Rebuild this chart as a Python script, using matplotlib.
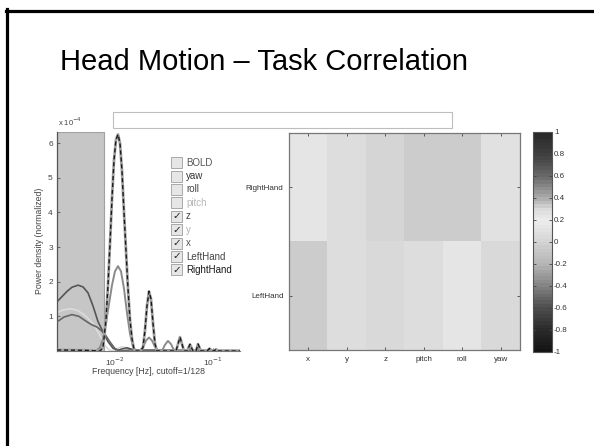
import matplotlib
matplotlib.use("Agg")
import matplotlib.pyplot as plt
import numpy as np
from matplotlib.colors import LinearSegmentedColormap
from matplotlib.patches import Rectangle
from matplotlib.lines import Line2D

# ---------------- data ----------------
title_text = "Head Motion \u2013 Task Correlation"
cutoff_hz = 1 / 128
freq_limits = (0.00256, 0.1886)
y_max = 6.32  # in units of 1e-4

# low-frequency motion curves (values in 1e-4)
z_freq = [0.002560, 0.002879, 0.003237, 0.003640, 0.004193, 0.004715, 0.005303,
          0.005963, 0.006707, 0.007543, 0.008484, 0.009541, 0.010730, 0.011786,
          0.013257, 0.014911, 0.017993, 0.025595, 0.046064, 0.097680, 0.1886]
z_vals = [1.42, 1.57, 1.72, 1.84, 1.90, 1.85, 1.68,
          1.30, 0.85, 0.55, 0.27, 0.08, 0.02, 0.06,
          0.09, 0.05, 0.02, 0.02, 0.01, 0.01, 0.01]

y_freq = [0.002560, 0.002947, 0.003474, 0.004095, 0.004941, 0.005963, 0.006707,
          0.007369, 0.007907, 0.008684, 0.009541, 0.010238, 0.011514, 0.013257,
          0.015265, 0.017993, 0.025595, 0.046064, 0.097680, 0.1886]
y_vals = [1.12, 1.18, 1.22, 1.18, 1.03, 0.79, 0.55,
          0.33, 0.16, 0.03, 0.01, 0.05, 0.12, 0.10,
          0.02, 0.01, 0.04, 0.02, 0.01, 0.01]

x_freq = [0.002560, 0.003017, 0.003640, 0.004292, 0.004941, 0.005690, 0.006549,
          0.007197, 0.007907, 0.008893, 0.01, 0.011246, 0.014226, 0.020237,
          0.034733, 0.1886]
x_vals = [0.84, 0.98, 1.05, 1.00, 0.88, 0.77, 0.69,
          0.60, 0.48, 0.26, 0.07, 0.00, 0.03, 0.02,
          0.02, 0.01]

lefthand_freq = [0.002560, 0.005303, 0.006400, 0.007029, 0.007543, 0.008095, 0.008684,
                 0.009320, 0.01, 0.010730, 0.011514, 0.012354, 0.013257, 0.014226,
                 0.015265, 0.016378, 0.017993, 0.019307, 0.020717, 0.022230, 0.023855,
                 0.025595, 0.027465, 0.030174, 0.032366, 0.034733, 0.037276, 0.039994,
                 0.054288, 0.058249, 0.062519, 0.067083, 0.070303, 0.075440, 0.1886]
lefthand_vals = [0.02, 0.01, 0.00, 0.10, 0.35, 0.80, 1.35,
                 1.90, 2.30, 2.45, 2.30, 1.80, 1.10, 0.50,
                 0.12, 0.00, 0.00, 0.10, 0.30, 0.39, 0.30,
                 0.12, 0.00, 0.00, 0.18, 0.29, 0.20, 0.02,
                 0.00, 0.08, 0.00, 0.00, 0.08, 0.00, 0.00]

righthand_freq = [0.002560, 0.004941, 0.007029, 0.007543, 0.008095, 0.008484, 0.008893,
                  0.009320, 0.009768, 0.010238, 0.010730, 0.011246, 0.011786, 0.012354,
                  0.012949, 0.013573, 0.014226, 0.014911, 0.015625, 0.016378, 0.017993,
                  0.019307, 0.020237, 0.021209, 0.022230, 0.023301, 0.024423, 0.025595,
                  0.026827, 0.041924, 0.043954, 0.046064, 0.048284, 0.050592, 0.054288,
                  0.058249, 0.062519, 0.067083, 0.070303, 0.075440, 0.086856, 0.092105,
                  0.097680, 0.102377, 0.107310, 0.112460, 0.1886]
righthand_vals = [0.03, 0.02, 0.00, 0.10, 0.90, 1.90, 3.10,
                  4.40, 5.50, 6.10, 6.25, 6.00, 5.20, 4.00,
                  2.90, 1.80, 0.90, 0.35, 0.05, 0.00, 0.00,
                  0.10, 0.60, 1.30, 1.72, 1.50, 0.80, 0.20,
                  0.00, 0.00, 0.20, 0.40, 0.20, 0.00, 0.00,
                  0.19, 0.00, 0.00, 0.20, 0.00, 0.00, 0.07,
                  0.00, 0.00, 0.05, 0.00, 0.00]

legend_names = ["BOLD", "yaw", "roll", "pitch", "z", "y", "x", "LeftHand", "RightHand"]
legend_checked = [False, False, False, False, True, True, True, True, True]
legend_colors = ["#555555", "#333333", "#444444", "#b8b8b8", "#444444",
                 "#b0b0b0", "#555555", "#444444", "#1a1a1a"]

hm_rows = ["RightHand", "LeftHand"]
hm_cols = ["x", "y", "z", "pitch", "roll", "yaw"]
hm_righthand = [0.128, 0.082, 0.0, -0.062, -0.033, 0.096]
hm_lefthand = [-0.033, 0.066, 0.05, 0.082, 0.128, 0.034]

cbar_ticks = [-1, -0.8, -0.6, -0.4, -0.2, 0, 0.2, 0.4, 0.6, 0.8, 1]
cbar_labels = ["-1", "-0.8", "-0.6", "-0.4", "-0.2", "0", "0.2", "0.4", "0.6", "0.8", "1"]

# ---------------- figure ----------------
W, H = 594, 446
fig = plt.figure(figsize=(W / 100, H / 100), dpi=100)
fig.patch.set_facecolor("white")

def fx(px):
    return px / W

def fy(py):
    return 1 - py / H

mfont = ["Liberation Sans", "DejaVu Sans"]

# slide frame
fig.add_artist(Line2D([fx(6.5), fx(6.5)], [fy(9), fy(H + 5)], color="black", lw=2.3,
                      transform=fig.transFigure))
fig.add_artist(Line2D([fx(5.5), fx(W + 5)], [fy(10.5), fy(10.5)], color="black", lw=2.3,
                      transform=fig.transFigure))

fig.text(fx(263.5), fy(62), title_text, ha="center", va="center", fontsize=21,
         family=["Liberation Sans", "DejaVu Sans"], color="black")

# edit box
fig.add_artist(Rectangle((fx(113), fy(128)), fx(452) - fx(113), fy(112) - fy(128),
                         transform=fig.transFigure, facecolor="white",
                         edgecolor="#bdbdbd", lw=0.8))

# ---------------- spectrum axes ----------------
ax = fig.add_axes([fx(57), fy(351), fx(240) - fx(57), fy(132) - fy(351)])
ax.set_xscale("log")
ax.set_xlim(*freq_limits)
ax.set_ylim(0, y_max)
ax.axvspan(freq_limits[0], cutoff_hz, facecolor="#c6c6c6", edgecolor="#a0a0a0",
           lw=0.8, zorder=0)
ax.plot(z_freq, z_vals, color="#555555", lw=1.2, zorder=3)
ax.plot(y_freq, y_vals, color="#dcdcdc", lw=1.2, zorder=2)
ax.plot(x_freq, x_vals, color="#666666", lw=1.2, zorder=3)
ax.plot(lefthand_freq, lefthand_vals, color="#8a8a8a", lw=1.4, zorder=4)
ax.plot(righthand_freq, righthand_vals, color="#a0a0a0", lw=2.0, zorder=5)
ax.plot(righthand_freq, righthand_vals, color="#1a1a1a", lw=1.0, ls=(0, (3, 2)), zorder=6)

for s in ["top", "right"]:
    ax.spines[s].set_visible(False)
ax.spines["left"].set_color("#555555")
ax.spines["bottom"].set_color("#777777")
ax.spines["left"].set_linewidth(0.9)
ax.spines["bottom"].set_linewidth(0.8)
ax.set_yticks([1, 2, 3, 4, 5, 6])
ax.set_yticklabels(["1", "2", "3", "4", "5", "6"])
ax.set_xticks([0.01, 0.1])
ax.set_xticklabels(["10$^{-2}$", "10$^{-1}$"])
ax.xaxis.set_minor_locator(matplotlib.ticker.NullLocator())
ax.tick_params(direction="in", length=2.5, width=0.6, colors="#555555",
               labelsize=6, labelcolor="#444444", pad=3)
for lab in ax.get_xticklabels() + ax.get_yticklabels():
    lab.set_family(mfont)
ax.set_facecolor("white")
fig.text(fx(58), fy(122), "x 10$^{-4}$", fontsize=5.5, color="#444444", family=mfont,
         ha="left", va="center")
fig.text(fx(40), fy(241), "Power density (normalized)", rotation=90, fontsize=6.3,
         color="#444444", family=mfont, ha="center", va="center")
fig.text(fx(148), fy(372), "Frequency [Hz], cutoff=1/128", fontsize=6.3,
         color="#444444", family=mfont, ha="center", va="center")

# checkbox legend
for i, (name, chk, col) in enumerate(zip(legend_names, legend_checked, legend_colors)):
    cy = 162.7 + i * 13.4
    fig.add_artist(Rectangle((fx(171), fy(cy + 5.5)), fx(11), 11 / H,
                             transform=fig.transFigure, facecolor="#e6e6e6",
                             edgecolor="#a8a8a8", lw=0.7))
    if chk:
        fig.text(fx(176.5), fy(cy), "\u2713", fontsize=7.5, color="#222222",
                 family="DejaVu Sans", ha="center", va="center", fontweight="bold")
    fig.text(fx(186), fy(cy), name, fontsize=7, color=col, family=mfont,
             ha="left", va="center")

# ---------------- heatmap ----------------
cmap = LinearSegmentedColormap.from_list(
    "gjet",
    [(0.0, (0.08,) * 3), (0.1, (0.17,) * 3), (0.2, (0.31,) * 3), (0.3, (0.52,) * 3),
     (0.4, (0.71,) * 3), (0.5, (0.83,) * 3), (0.6, (0.93,) * 3), (0.65, (0.86,) * 3),
     (0.7, (0.68,) * 3), (0.8, (0.42,) * 3), (0.9, (0.25,) * 3), (1.0, (0.16,) * 3)],
    N=64)

hm = np.array([hm_righthand, hm_lefthand])
hax = fig.add_axes([fx(289), fy(350), fx(520) - fx(289), fy(133) - fy(350)])
im = hax.imshow(hm, cmap=cmap, vmin=-1, vmax=1, aspect="auto", interpolation="nearest")
hax.set_xticks(range(len(hm_cols)))
hax.set_xticklabels(hm_cols)
hax.set_yticks(range(len(hm_rows)))
hax.set_yticklabels(hm_rows)
hax.tick_params(direction="in", length=2.5, width=0.6, colors="#444444", labelsize=5.8,
                top=True, right=True, pad=4)
for lab in hax.get_xticklabels() + hax.get_yticklabels():
    lab.set_family(mfont)
    lab.set_color("#333333")
for s in hax.spines.values():
    s.set_color("#777777")
    s.set_linewidth(0.9)

cax = fig.add_axes([fx(533), fy(352), fx(552) - fx(533), fy(132) - fy(352)])
cb = fig.colorbar(im, cax=cax)
cb.set_ticks(cbar_ticks)
cb.set_ticklabels(cbar_labels)
cb.outline.set_edgecolor("#555555")
cb.outline.set_linewidth(0.8)
cax.tick_params(direction="in", length=2, width=0.6, colors="#444444", labelsize=5.8,
                left=True, right=True, pad=1.5)
for lab in cax.get_yticklabels():
    lab.set_family(mfont)
    lab.set_color("#333333")

fig.savefig("out.png", dpi=100)
